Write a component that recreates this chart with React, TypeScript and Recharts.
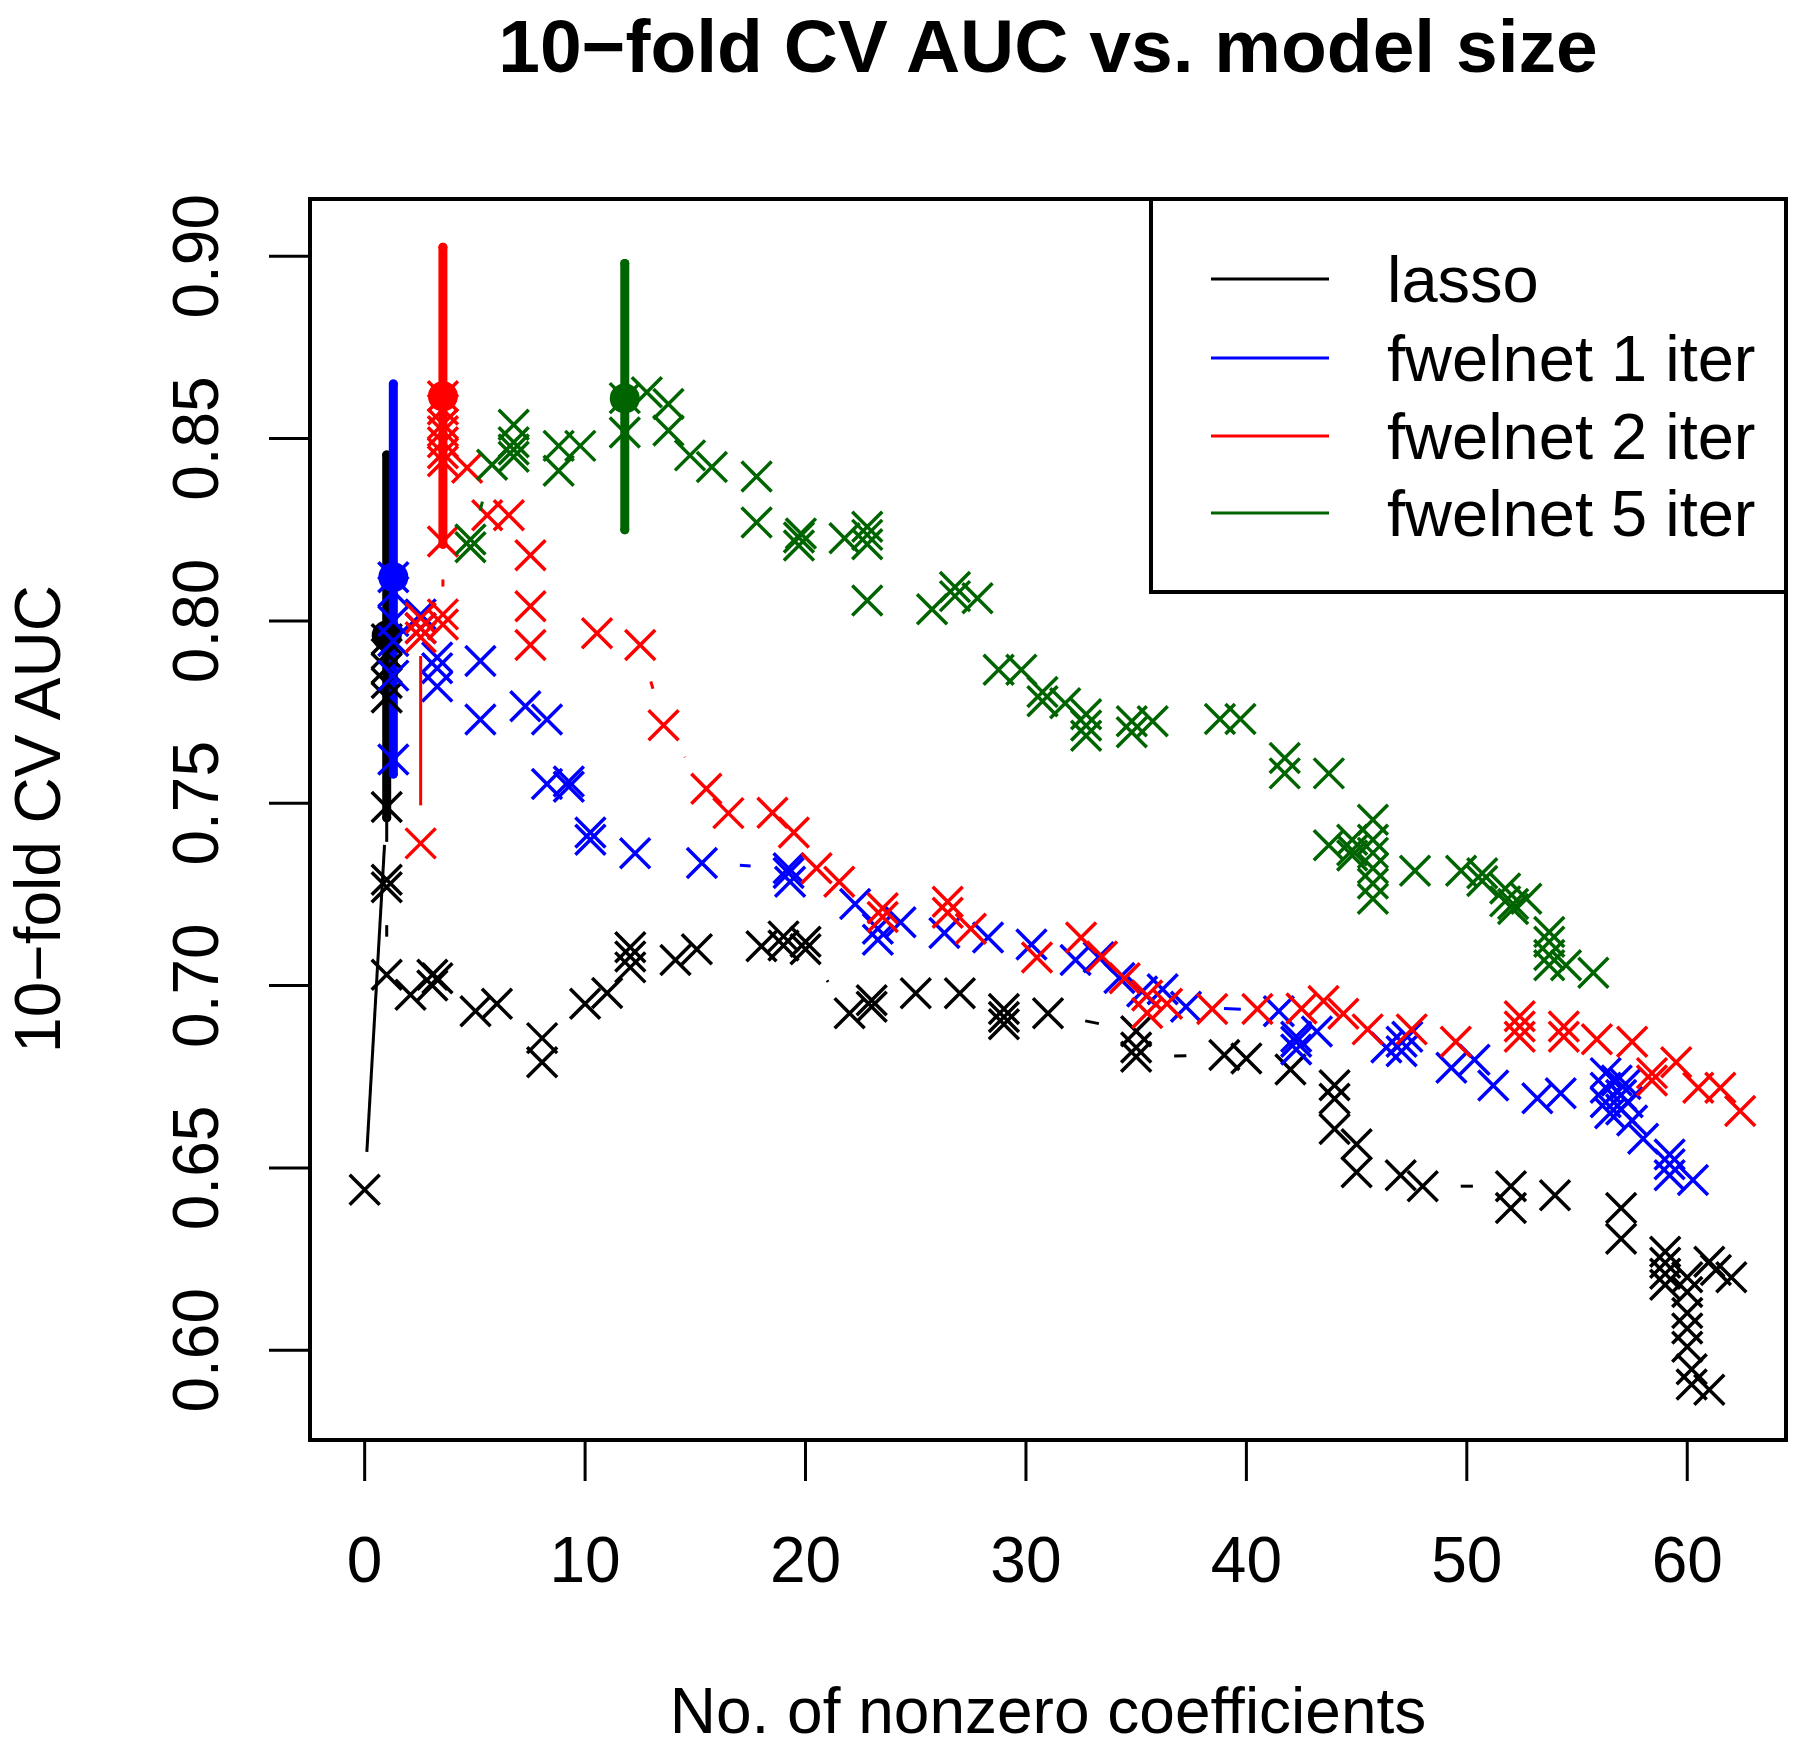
import React from 'react';
import { ScatterChart, Scatter, XAxis, YAxis, ErrorBar } from 'recharts';

const FONT = '"Liberation Sans", Arial, Helvetica, sans-serif';

const seriesNames = ['lasso', 'fwelnet 1 iter', 'fwelnet 2 iter', 'fwelnet 5 iter'];
const seriesColors = ['#000000', '#0000ff', '#ff0000', '#006400'];

const xTicks = [0, 10, 20, 30, 40, 50, 60];
const yTicks = [0.6, 0.65, 0.7, 0.75, 0.8, 0.85, 0.9];

// [no. of nonzero coefs, CV AUC] in path order
const lassoPts: [number, number][] = [
  [0, 0.644], [1, 0.749], [1, 0.779], [1, 0.783], [1, 0.787], [1, 0.791], [1, 0.795],
  [1, 0.729], [1, 0.727], [1, 0.703], [2.08, 0.6975], [3.07, 0.703], [3.07, 0.7], [3.3, 0.702],
  [5.03, 0.693], [6.0, 0.695], [8.05, 0.6856], [8.05, 0.679], [10.0, 0.695], [11.0, 0.698],
  [12.05, 0.705], [12.05, 0.708], [12.05, 0.7105], [14.1, 0.707], [15.07, 0.71], [18.0, 0.7108],
  [19.0, 0.7135], [19.0, 0.711], [20.0, 0.712], [20.0, 0.71], [22.0, 0.6924], [23.0, 0.696],
  [23.0, 0.6942], [25.0, 0.6979], [27.0, 0.6979], [29.0, 0.6936], [29.0, 0.6914], [29.0, 0.6894],
  [31.0, 0.6924], [35.0, 0.6875], [35.0, 0.683], [35.0, 0.6805], [39.0, 0.681], [40.0, 0.68],
  [42.0, 0.677], [44.0, 0.6727], [44.0, 0.669], [44.0, 0.6607], [45.0, 0.6565], [45.0, 0.6488],
  [47.0, 0.648], [48.0, 0.645], [52.0, 0.645], [52.0, 0.639], [54.0, 0.6425], [57.0, 0.639],
  [57.0, 0.6306], [59.0, 0.627], [59.0, 0.624], [59.0, 0.621], [59.0, 0.618], [60.0, 0.62],
  [61.0, 0.6243], [61.3, 0.622], [62.0, 0.62], [60.0, 0.616], [60.0, 0.6102], [60.0, 0.606],
  [60.0, 0.601], [60.2, 0.5948], [60.2, 0.5906], [61.0, 0.5892],
];

const iter1Pts: [number, number][] = [
  [1.3, 0.762], [1.3, 0.785], [1.3, 0.7945], [1.3, 0.8], [1.3, 0.808], [1.3, 0.812],
  [2.54, 0.8018], [2.54, 0.798], [3.29, 0.79], [3.29, 0.787], [3.29, 0.782], [5.25, 0.789],
  [5.25, 0.773], [7.29, 0.7766], [8.27, 0.773], [8.27, 0.7553], [9.26, 0.756], [9.26, 0.7545],
  [10.24, 0.742], [10.24, 0.74], [12.27, 0.7363], [15.3, 0.7336], [19.23, 0.7322], [19.23, 0.7309],
  [19.3, 0.7285], [22.25, 0.7224], [23.28, 0.7156], [23.28, 0.7126], [24.31, 0.7174], [26.3, 0.7144],
  [28.28, 0.7132], [30.25, 0.7113], [32.25, 0.707], [33.3, 0.7078], [34.24, 0.7021], [35.27, 0.6984],
  [36.2, 0.699], [37.26, 0.6942], [41.47, 0.693], [42.26, 0.686], [42.26, 0.6846], [42.26, 0.6825],
  [43.2, 0.6874], [46.35, 0.683], [47.04, 0.6846], [47.04, 0.682], [47.3, 0.686], [49.3, 0.6775],
  [50.35, 0.6797], [51.2, 0.6726], [53.2, 0.6691], [54.26, 0.6705], [56.3, 0.676], [56.3, 0.672],
  [56.3, 0.668], [56.5, 0.665], [56.8, 0.674], [57.0, 0.67], [57.0, 0.666], [57.2, 0.673],
  [57.3, 0.668], [57.5, 0.663], [58.0, 0.658], [59.2, 0.6537], [59.2, 0.651], [59.2, 0.648],
  [60.26, 0.6467],
];

const iter2Pts: [number, number][] = [
  [2.54, 0.739], [2.54, 0.8008], [2.54, 0.798], [2.54, 0.7955], [3.55, 0.8018], [3.55, 0.799],
  [3.55, 0.8218], [3.55, 0.8438], [3.55, 0.846], [3.55, 0.849], [3.55, 0.852], [3.55, 0.854],
  [3.55, 0.858], [3.55, 0.8616], [4.65, 0.842], [5.56, 0.829], [6.54, 0.829], [7.52, 0.818],
  [7.52, 0.804], [7.52, 0.7934], [10.54, 0.7966], [12.5, 0.7934], [13.56, 0.7714], [15.5, 0.754],
  [16.5, 0.7473], [18.5, 0.7474], [19.47, 0.742], [20.5, 0.7322], [21.53, 0.7285], [23.5, 0.7212],
  [23.5, 0.7188], [26.45, 0.723], [26.45, 0.72], [27.5, 0.7156], [30.5, 0.7077], [32.5, 0.7132],
  [33.45, 0.708], [34.48, 0.702], [35.5, 0.6973], [35.5, 0.6925], [36.4, 0.695], [38.45, 0.6936],
  [40.5, 0.6936], [42.5, 0.6937], [43.5, 0.6958], [44.4, 0.6923], [45.5, 0.688], [47.5, 0.688],
  [49.5, 0.6846], [52.4, 0.6916], [52.4, 0.6888], [52.4, 0.686], [54.4, 0.6888], [54.4, 0.686],
  [55.9, 0.6853], [57.5, 0.6846], [58.4, 0.676], [58.4, 0.674], [59.5, 0.679], [60.5, 0.672],
  [61.5, 0.672], [62.4, 0.6656],
];

const iter5Pts: [number, number][] = [
  [4.8, 0.8223], [4.8, 0.8202], [5.78, 0.8428], [6.76, 0.845], [6.76, 0.847], [6.76, 0.849],
  [6.76, 0.8538], [8.8, 0.8412], [8.8, 0.848], [9.78, 0.848], [11.8, 0.8517], [11.8, 0.8611],
  [12.8, 0.8627], [13.78, 0.8595], [13.78, 0.8522], [14.76, 0.8454], [15.75, 0.8422], [17.78, 0.8396],
  [17.78, 0.827], [19.7, 0.8229], [19.7, 0.8207], [19.79, 0.824], [21.77, 0.8227], [22.8, 0.8258],
  [22.8, 0.8236], [22.8, 0.821], [22.8, 0.8056], [25.74, 0.8032], [26.78, 0.8093], [26.78, 0.8068],
  [27.8, 0.8062], [28.76, 0.7866], [29.79, 0.7866], [30.75, 0.7805], [30.75, 0.778], [31.78, 0.7774],
  [32.73, 0.7744], [32.73, 0.7713], [32.73, 0.7685], [34.8, 0.7725], [34.8, 0.7695], [35.75, 0.7725],
  [38.8, 0.7731], [39.73, 0.7731], [41.74, 0.7624], [41.74, 0.7582], [43.74, 0.7582], [45.74, 0.7455],
  [43.74, 0.7385], [44.8, 0.74], [44.8, 0.7371], [44.8, 0.7357], [45.74, 0.74], [45.74, 0.7364],
  [45.74, 0.7322], [45.74, 0.728], [45.74, 0.7238], [47.65, 0.7315], [49.74, 0.7315], [50.7, 0.7308],
  [50.7, 0.7287], [51.74, 0.7266], [51.74, 0.7231], [52.1, 0.7224], [52.1, 0.721], [52.7, 0.7238],
  [53.74, 0.7147], [53.74, 0.712], [53.74, 0.7084], [53.74, 0.7056], [54.5, 0.7056], [55.74, 0.7035],
];

// chosen model: [x, mean AUC, lower, upper]
const lassoBest = [1.0, 0.796, 0.746, 0.8455];
const iter1Best = [1.3, 0.812, 0.758, 0.865];
const iter2Best = [3.55, 0.8616, 0.821, 0.9025];
const iter5Best = [11.8, 0.861, 0.825, 0.898];

const allPts = [lassoPts, iter1Pts, iter2Pts, iter5Pts];
const allBest = [lassoBest, iter1Best, iter2Best, iter5Best];

const GAP = 38;

const makeCross = (color: string) => (p: any) => {
  const { cx, cy } = p;
  const s = 15;
  return (
    <path
      d={`M${cx - s},${cy - s}L${cx + s},${cy + s}M${cx - s},${cy + s}L${cx + s},${cy - s}`}
      stroke={color}
      strokeWidth={3.5}
      fill="none"
    />
  );
};

const makeDot = (color: string) => (p: any) => <circle cx={p.cx} cy={p.cy} r={15} fill={color} />;

// type="b" style: segments with a gap around each point
const makeGapLine = (color: string) => (props: any) => {
  const pts = (props.points || []) as { x: number; y: number }[];
  const segs: React.ReactNode[] = [];
  for (let i = 1; i < pts.length; i++) {
    const a = pts[i - 1];
    const b = pts[i];
    const dx = b.x - a.x;
    const dy = b.y - a.y;
    const d = Math.hypot(dx, dy);
    if (d <= 2 * GAP) continue;
    const ux = dx / d;
    const uy = dy / d;
    segs.push(
      <line key={i} x1={a.x + ux * GAP} y1={a.y + uy * GAP} x2={b.x - ux * GAP} y2={b.y - uy * GAP}
        stroke={color} strokeWidth={3} />
    );
  }
  return <g>{segs}</g>;
};

const XTick = (p: any) => (
  <text x={p.x} y={1582} textAnchor="middle" fontSize={64} fontFamily={FONT} fill="#000">
    {p.payload.value}
  </text>
);

const YTick = (p: any) => (
  <text x={218} y={p.y} transform={`rotate(-90 218 ${p.y})`} textAnchor="middle"
    fontSize={64} fontFamily={FONT} fill="#000">
    {Number(p.payload.value).toFixed(2)}
  </text>
);

export default function App() {
  const legendY = [279, 358, 436, 513];
  return (
    <div style={{ position: 'absolute', left: 0, top: 0, width: 1800, height: 1749, background: '#fff' }}>
      <ScatterChart width={1800} height={1749} margin={{ top: 199, right: 14, bottom: 159, left: 210 }}>
        <XAxis type="number" dataKey="x" domain={[-2.48, 64.48]} ticks={xTicks} allowDataOverflow
          height={150} tick={<XTick />} tickSize={41} tickLine={{ stroke: '#000', strokeWidth: 3 }}
          axisLine={false} interval={0} />
        <YAxis type="number" dataKey="y" domain={[0.5754, 0.9157]} ticks={yTicks} allowDataOverflow
          width={100} tick={<YTick />} tickSize={41} tickLine={{ stroke: '#000', strokeWidth: 3 }}
          axisLine={false} interval={0} />
        {allPts.map((pts, i) => [
          <Scatter key={`s${i}`} name={seriesNames[i]} data={pts.map(([x, y]) => ({ x, y }))}
            shape={makeCross(seriesColors[i])} line={makeGapLine(seriesColors[i])} lineType="joint"
            isAnimationActive={false} />,
          <Scatter key={`b${i}`} data={[{ x: allBest[i][0], y: allBest[i][1],
            err: [allBest[i][1] - allBest[i][2], allBest[i][3] - allBest[i][1]] }]}
            shape={makeDot(seriesColors[i])} isAnimationActive={false}>
            <ErrorBar dataKey="err" direction="y" width={0} stroke={seriesColors[i]} strokeWidth={9}
              strokeLinecap="round" isAnimationActive={false} />
          </Scatter>,
        ])}
      </ScatterChart>
      <svg width={1800} height={1749} style={{ position: 'absolute', left: 0, top: 0, pointerEvents: 'none' }}>
        <rect x={310} y={199} width={1476} height={1241} fill="none" stroke="#000" strokeWidth={4} />
        <text x={1048} y={72} textAnchor="middle" fontSize={75} fontWeight="bold" fontFamily={FONT}>
          10−fold CV AUC vs. model size
        </text>
        <text x={1048} y={1733} textAnchor="middle" fontSize={64} fontFamily={FONT}>
          No. of nonzero coefficients
        </text>
        <text x={60} y={819} transform="rotate(-90 60 819)" textAnchor="middle" fontSize={64} fontFamily={FONT}>
          10−fold CV AUC
        </text>
        <rect x={1151} y={199} width={635} height={393} fill="#fff" stroke="#000" strokeWidth={4} />
        {seriesNames.map((n, i) => (
          <g key={n}>
            <line x1={1211} x2={1329} y1={legendY[i]} y2={legendY[i]} stroke={seriesColors[i]} strokeWidth={3} />
            <text x={1387} y={legendY[i] + 23} fontSize={65} fontFamily={FONT}>{n}</text>
          </g>
        ))}
      </svg>
    </div>
  );
}
